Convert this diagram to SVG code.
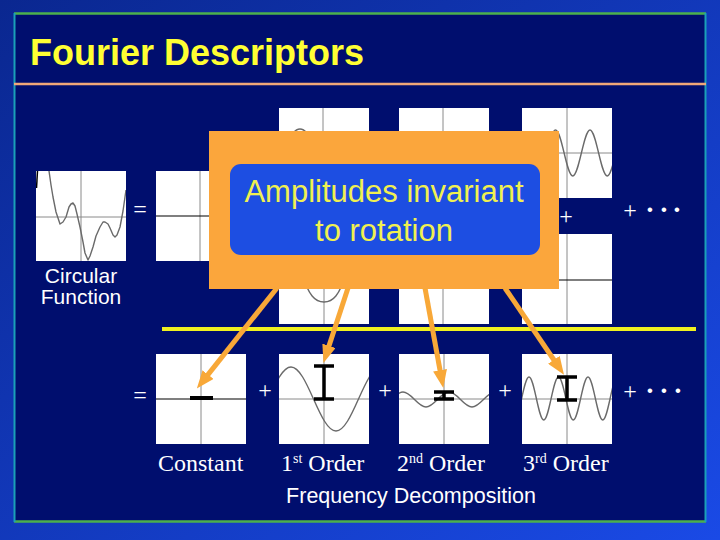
<svg xmlns="http://www.w3.org/2000/svg" width="720" height="540" viewBox="0 0 720 540">
<defs>
<linearGradient id="bg" x1="0" y1="0" x2="1" y2="1">
<stop offset="0" stop-color="#0a2790"/>
<stop offset="1" stop-color="#1a4ae6"/>
</linearGradient>
<clipPath id="pc"><rect x="0" y="0" width="90" height="90"/></clipPath>
<marker id="ah" viewBox="0 0 18 14" markerWidth="18" markerHeight="14" refX="2" refY="7" orient="auto" markerUnits="userSpaceOnUse">
<path d="M0,0 L18,7 L0,14 Z" fill="#f8a838"/>
</marker>
<style>
.plot{fill:#ffffff}
.ax{stroke:#8a8a8a;stroke-width:1;fill:none}
.axb{stroke:#000000;stroke-width:1.2;fill:none}
.wave{stroke:#6a6a6a;stroke-width:1.4;fill:none;stroke-linejoin:round}
.beam{stroke:#000000;stroke-width:3.5;fill:none}
.sym{font-family:"Liberation Serif","Times New Roman",serif;font-size:24px;fill:#ffffff}
.dot{font-weight:bold;font-size:28px}
.lab{font-family:"Liberation Serif","Times New Roman",serif;font-size:24px;fill:#ffffff}
.sup{font-size:14px}
.sans{font-family:"Liberation Sans",Arial,sans-serif;fill:#ffffff}
.arrow{stroke:#f8a838;stroke-width:5;fill:none;marker-end:url(#ah)}
</style>
</defs>
<rect x="0" y="0" width="720" height="540" fill="url(#bg)"/>
<rect x="14" y="13" width="692" height="509" fill="#000e6e"/>
<line x1="14" y1="13.5" x2="706" y2="13.5" stroke="#4cb04c" stroke-width="2.5"/>
<line x1="14" y1="521.5" x2="706" y2="521.5" stroke="#4cb04c" stroke-width="2.5"/>
<line x1="14.5" y1="13" x2="14.5" y2="522" stroke="#1aa0b8" stroke-width="2"/>
<line x1="705.5" y1="13" x2="705.5" y2="522" stroke="#1aa0b8" stroke-width="2"/>
<line x1="14" y1="84" x2="706" y2="84" stroke="#f0a878" stroke-width="2.5"/>
<text id="title" x="30" y="65" font-family="'Liberation Sans',Arial,sans-serif" font-weight="bold" font-size="36" fill="#ffff33">Fourier Descriptors</text>

<g id="circular-function">
<g transform="translate(36,171)">
<rect class="plot" width="90" height="90"/>
<line class="ax" x1="45" y1="0" x2="45" y2="90"/>
<line class="ax" x1="0" y1="46" x2="90" y2="46"/>
<g clip-path="url(#pc)">
<path d="M0.5,17 L1.5,0" stroke="#000" stroke-width="1.5" fill="none"/>
<path class="wave" d="M13,0 L15,14 L17,26 L20,41 L24,53 L27,51 L30,46 L33,36 L35,33 L37,32 L39,35 L41,43 L44,56 L47,71 L49,82 L52,89 L54,85 L57,76 L60,65 L64,56 L67,51 L69,51 L72,53 L74,57 L77,64 L79,66 L81,64 L84,56 L87,40 L89,26 L90,19"/>
</g>
</g>
<text class="sans" x="81" y="283" font-size="21" text-anchor="middle">Circular</text>
<text class="sans" x="81" y="304" font-size="21" text-anchor="middle">Function</text>
</g>

<text class="sym" x="140" y="217" text-anchor="middle">=</text>

<g id="top-constant" transform="translate(156,171)">
<rect class="plot" width="90" height="90"/>
<line class="ax" x1="44" y1="0" x2="44" y2="90"/>
<line class="axb" x1="0" y1="45" x2="90" y2="45"/>
</g>

<g id="top-first-a" transform="translate(279,108)">
<rect class="plot" width="90" height="90"/>
<line class="ax" x1="44" y1="0" x2="44" y2="90"/>
<path class="wave" d="M14,25 Q21,17 28,25"/>
</g>
<g id="top-first-b" transform="translate(279,234)">
<rect class="plot" width="90" height="90"/>
<line class="ax" x1="45" y1="0" x2="45" y2="90"/>
<path class="wave" d="M22,38 C30,62 36,68 45,68 C54,68 60,62 68,38"/>
</g>
<g id="top-second-a" transform="translate(399,108)">
<rect class="plot" width="90" height="90"/>
<line class="ax" x1="44" y1="0" x2="44" y2="90"/>
</g>
<g id="top-second-b" transform="translate(399,234)">
<rect class="plot" width="90" height="90"/>
<line class="ax" x1="44" y1="0" x2="44" y2="90"/>
</g>
<g id="top-third-a" transform="translate(522,108)">
<rect class="plot" width="90" height="90"/>
<line class="ax" x1="45" y1="0" x2="45" y2="90"/>
<line class="ax" x1="0" y1="45" x2="90" y2="45"/>
<path class="wave" clip-path="url(#pc)" d="M16.25,68 C22.52,68 27.23,22 33.5,22 C39.77,22 44.48,68 50.75,68 C57.02,68 61.730,22 68,22 C74.27,22 78.98,68 85.25,68 C91.52,68 96.23,22 102.5,22"/>
</g>
<g id="top-third-b" transform="translate(522,234)">
<rect class="plot" width="90" height="90"/>
<line class="ax" x1="45" y1="0" x2="45" y2="90"/>
<line class="axb" x1="0" y1="46" x2="90" y2="46"/>
</g>

<text class="sym" x="566" y="224" text-anchor="middle">+</text>
<text class="sym" x="630" y="218" text-anchor="middle">+<tspan class="dot" x="650" y="219">·</tspan><tspan class="dot" x="664">·</tspan><tspan class="dot" x="677">·</tspan></text>

<line id="divider" x1="162" y1="329" x2="696" y2="329" stroke="#f0f020" stroke-width="4"/>

<text class="sym" x="140" y="403" text-anchor="middle">=</text>

<g id="constant" transform="translate(156,354)">
<rect class="plot" width="90" height="90"/>
<line class="ax" x1="45" y1="0" x2="45" y2="90"/>
<line class="axb" x1="0" y1="45" x2="90" y2="45"/>
<line x1="34" y1="44" x2="57" y2="44" stroke="#000" stroke-width="4"/>
</g>
<text class="sym" x="265" y="398" text-anchor="middle">+</text>
<g id="first-order" transform="translate(279,354)">
<rect class="plot" width="90" height="90"/>
<line class="ax" x1="45" y1="0" x2="45" y2="90"/>
<line class="ax" x1="0" y1="45" x2="90" y2="45"/>
<path class="wave" clip-path="url(#pc)" d="M-33,77 C-16.65,77 -4.35,13 12,13 C28.35,13 40.65,77 57,77 C73.35,77 85.65,13 102,13"/>
<path class="beam" d="M45,12 V45 M35,12 H55 M35,45 H55"/>
</g>
<text class="sym" x="385" y="398" text-anchor="middle">+</text>
<g id="second-order" transform="translate(399,354)">
<rect class="plot" width="90" height="90"/>
<line class="ax" x1="45" y1="0" x2="45" y2="90"/>
<line class="ax" x1="0" y1="45" x2="90" y2="45"/>
<path class="wave" clip-path="url(#pc)" d="M-19,53 C-10.64,53 -4.36,38 4,38 C12.36,38 18.64,53 27,53 C35.36,53 41.64,38 50,38 C58.36,38 64.64,53 73,53 C81.36,53 87.64,38 96,38"/>
<path class="beam" d="M45,38 V45 M35,38 H55 M35,45 H55"/>
</g>
<text class="sym" x="505" y="398" text-anchor="middle">+</text>
<g id="third-order" transform="translate(522,354)">
<rect class="plot" width="90" height="90"/>
<line class="ax" x1="45" y1="0" x2="45" y2="90"/>
<line class="ax" x1="0" y1="45" x2="90" y2="45"/>
<path class="wave" clip-path="url(#pc)" d="M-7.75,66 C-2.39,66 1.64,23 7,23 C12.36,23 16.39,66 21.75,66 C27.11,66 31.14,23 36.5,23 C41.86,23 45.89,66 51.25,66 C56.61,66 60.64,23 66,23 C71.36,23 75.39,66 80.75,66 C86.11,66 90.14,23 95.5,23"/>
<path class="beam" d="M45,23 V46 M35,23 H55 M35,46 H55"/>
</g>
<text class="sym" x="630" y="399" text-anchor="middle">+<tspan class="dot" x="650" y="400">·</tspan><tspan class="dot" x="664">·</tspan><tspan class="dot" x="678">·</tspan></text>

<text class="lab" x="158" y="471">Constant</text>
<text class="lab" x="281" y="471">1<tspan class="sup" dy="-8">st</tspan><tspan dy="8"> Order</tspan></text>
<text class="lab" x="397" y="471">2<tspan class="sup" dy="-8">nd</tspan><tspan dy="8"> Order</tspan></text>
<text class="lab" x="523" y="471">3<tspan class="sup" dy="-8">rd</tspan><tspan dy="8"> Order</tspan></text>
<text class="sans" x="411" y="503" font-size="21.5" text-anchor="middle">Frequency Decomposition</text>

<g id="callout">
<rect x="209" y="131" width="350" height="158" fill="#fba63c"/>
<rect x="230" y="164" width="310" height="91" rx="11" fill="#1d4ee2"/>
<text class="sans" x="384" y="202" font-size="31" text-anchor="middle" style="fill:#f0f050">Amplitudes invariant</text>
<text class="sans" x="384" y="241" font-size="31" text-anchor="middle" style="fill:#f0f050">to rotation</text>
</g>

<g id="connectors">
<line class="arrow" x1="277" y1="288" x2="206.8" y2="376.1"/>
<line class="arrow" x1="348" y1="288" x2="328.4" y2="347.7"/>
<line class="arrow" x1="425" y1="288" x2="440.4" y2="372.2"/>
<line class="arrow" x1="505" y1="288" x2="555" y2="361.5"/>
</g>
</svg>
